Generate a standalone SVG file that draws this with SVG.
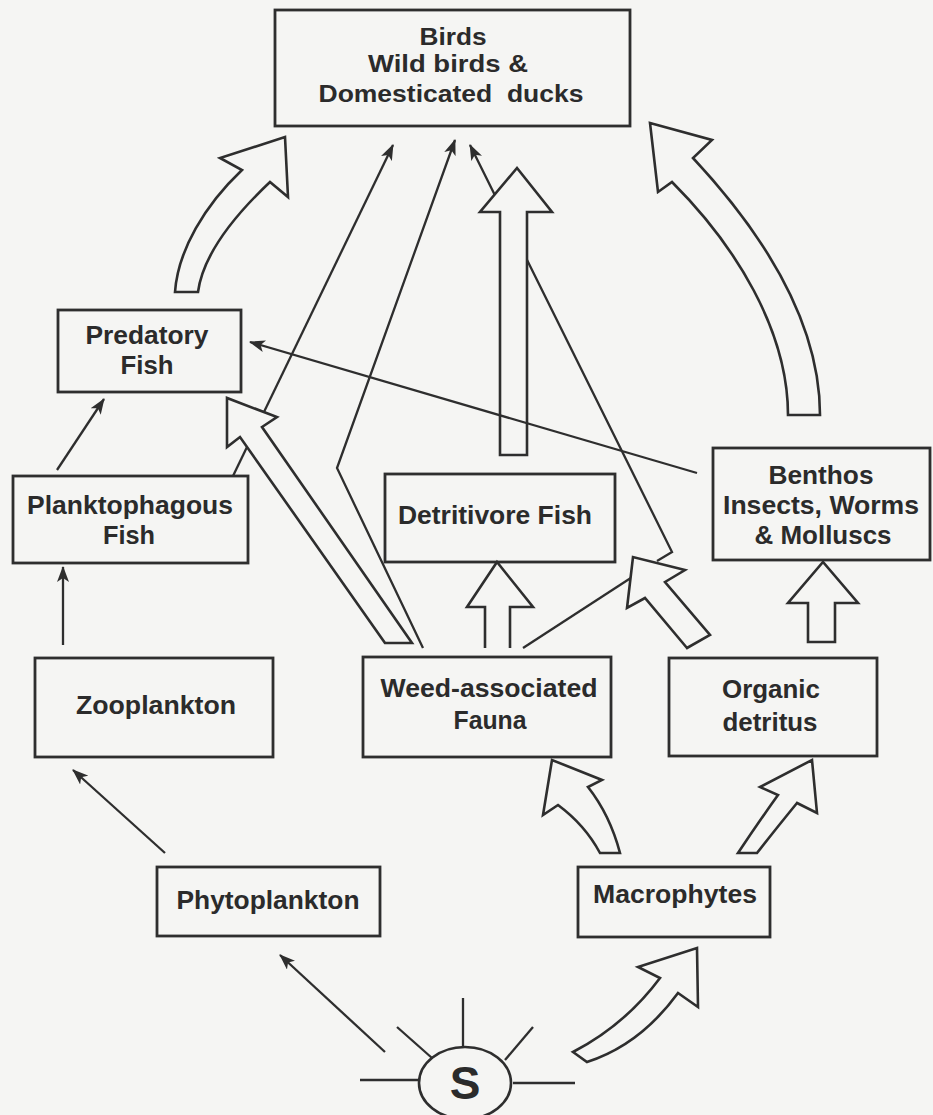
<svg xmlns="http://www.w3.org/2000/svg" width="933" height="1115" viewBox="0 0 933 1115">
<style>
.bg{fill:#f5f5f3}
.box{fill:none;stroke:#2e2e2e;stroke-width:2.8}
.lbl{font-family:"Liberation Sans",Arial,sans-serif;font-weight:bold;font-size:26px;fill:#2b2b2b;text-anchor:middle}
.sm{font-size:23px}
.ln{fill:none;stroke:#2e2e2e;stroke-width:2.3}
.blk{fill:#f5f5f3;stroke:#2e2e2e;stroke-width:2.6;stroke-linejoin:miter}
</style>
<defs>
<marker id="ah" markerWidth="16" markerHeight="12" refX="15" refY="6" orient="auto" markerUnits="userSpaceOnUse">
<path d="M0,0 L16,6 L0,12 L4,6 Z" fill="#2e2e2e"/>
</marker>
</defs>
<rect class="bg" x="0" y="0" width="933" height="1115"/>

<g id="connectors">
<path class="ln" d="M233,476 L393,145" marker-end="url(#ah)"/>
<path class="ln" d="M657,561 L672,552 L470,145" marker-end="url(#ah)"/>
<path class="ln" d="M523,648 L640,572"/>
<path class="ln" d="M423,648 L337,468 L455,140" marker-end="url(#ah)"/>
<path class="ln" d="M57,470 L104,399" marker-end="url(#ah)"/>
<path class="ln" d="M63,645 L63,567" marker-end="url(#ah)"/>
<path class="ln" d="M165,853 L73,770" marker-end="url(#ah)"/>
<path class="ln" d="M385,1052 L280,955" marker-end="url(#ah)"/>
<path class="blk" d="M175,292 C178,250 205,205 242,170 L220,158 L285,137 L288,197 L270,182 C235,215 203,255 198,292 Z"/>
<path class="blk" d="M788,415 C788,330 735,245 672,182 L658,192 L650,123 L712,140 L693,158 C760,230 820,320 820,415 Z"/>
<path class="blk" d="M500,455 L500,212 L480,212 L517,168 L552,212 L527,212 L527,455 Z"/>
<path class="blk" d="M385,643 L240,437 L227,447 L227,398 L277,417 L262,427 L412,643 Z"/>
<path class="blk" d="M485,648 L485,607 L467,607 L497,562 L533,607 L510,607 L510,648"/>
<path class="blk" d="M687,648 L645,598 L627,608 L633,557 L685,570 L665,582 L710,635 Z"/>
<path class="blk" d="M808,642 L808,603 L788,603 L823,562 L858,603 L835,603 L835,642 Z"/>
<path class="blk" d="M600,853 Q585,825 558,805 L543,815 L552,760 L602,780 L588,787 Q610,815 620,853 Z"/>
<path class="blk" d="M738,853 Q760,820 778,795 L760,787 L812,760 L817,813 L797,803 Q775,830 757,853 Z"/>
<path class="blk" d="M573,1052 Q625,1025 660,978 L638,967 L697,948 L698,1007 L678,993 Q640,1045 587,1062 Z"/>
<path class="ln" d="M697,473 L250,342" marker-end="url(#ah)"/>
</g>

<g id="birds">
<rect class="box" x="275" y="10" width="355" height="116"/>
<text class="lbl sm" x="453" y="45" textLength="67" lengthAdjust="spacingAndGlyphs">Birds</text>
<text class="lbl sm" x="448" y="72" textLength="160" lengthAdjust="spacingAndGlyphs">Wild birds &amp;</text>
<text class="lbl sm" x="451" y="102" textLength="265" lengthAdjust="spacingAndGlyphs" xml:space="preserve">Domesticated  ducks</text>
</g>

<g id="predatory-fish">
<rect class="box" x="58" y="310" width="183" height="82"/>
<text class="lbl" x="147" y="344" textLength="123" lengthAdjust="spacingAndGlyphs">Predatory</text>
<text class="lbl" x="147" y="374" textLength="53" lengthAdjust="spacingAndGlyphs">Fish</text>
</g>

<g id="planktophagous-fish">
<rect class="box" x="13" y="476" width="235" height="87"/>
<text class="lbl" x="130" y="514" textLength="206" lengthAdjust="spacingAndGlyphs">Planktophagous</text>
<text class="lbl" x="129" y="544" textLength="52" lengthAdjust="spacingAndGlyphs">Fish</text>
</g>

<g id="zooplankton">
<rect class="box" x="35" y="658" width="238" height="99"/>
<text class="lbl" x="156" y="714" textLength="160" lengthAdjust="spacingAndGlyphs">Zooplankton</text>
</g>

<g id="phytoplankton">
<rect class="box" x="157" y="867" width="223" height="69"/>
<text class="lbl" x="268" y="909" textLength="183" lengthAdjust="spacingAndGlyphs">Phytoplankton</text>
</g>

<g id="detritivore-fish">
<rect class="box" x="385" y="474" width="230" height="88"/>
<text class="lbl" x="495" y="524" textLength="194" lengthAdjust="spacingAndGlyphs">Detritivore Fish</text>
</g>

<g id="benthos">
<rect class="box" x="713" y="448" width="217" height="112"/>
<text class="lbl" x="821" y="484" textLength="105" lengthAdjust="spacingAndGlyphs">Benthos</text>
<text class="lbl" x="821" y="514" textLength="196" lengthAdjust="spacingAndGlyphs">Insects, Worms</text>
<text class="lbl" x="823" y="544" textLength="137" lengthAdjust="spacingAndGlyphs">&amp; Molluscs</text>
</g>

<g id="weed-associated-fauna">
<rect class="box" x="363" y="657" width="248" height="100"/>
<text class="lbl" x="489" y="697" textLength="217" lengthAdjust="spacingAndGlyphs">Weed-associated</text>
<text class="lbl" x="490" y="729" textLength="73" lengthAdjust="spacingAndGlyphs">Fauna</text>
</g>

<g id="organic-detritus">
<rect class="box" x="669" y="658" width="208" height="98"/>
<text class="lbl" x="771" y="698" textLength="98" lengthAdjust="spacingAndGlyphs">Organic</text>
<text class="lbl" x="770" y="731" textLength="95" lengthAdjust="spacingAndGlyphs">detritus</text>
</g>

<g id="macrophytes">
<rect class="box" x="578" y="867" width="192" height="70"/>
<text class="lbl" x="675" y="903" textLength="164" lengthAdjust="spacingAndGlyphs">Macrophytes</text>
</g>

<g id="sun">
<line class="ln" x1="360" y1="1080" x2="418" y2="1080"/>
<line class="ln" x1="513" y1="1083" x2="575" y2="1083"/>
<line class="ln" x1="463" y1="998" x2="463" y2="1047"/>
<line class="ln" x1="397" y1="1027" x2="432" y2="1058"/>
<line class="ln" x1="533" y1="1027" x2="505" y2="1060"/>
<ellipse cx="465" cy="1083" rx="46" ry="36" fill="#f5f5f3" stroke="#2e2e2e" stroke-width="2.6"/>
<text x="465" y="1099" font-family="Liberation Sans, Arial, sans-serif" font-weight="bold" font-size="46" fill="#2b2b2b" text-anchor="middle">S</text>
</g>
</svg>
